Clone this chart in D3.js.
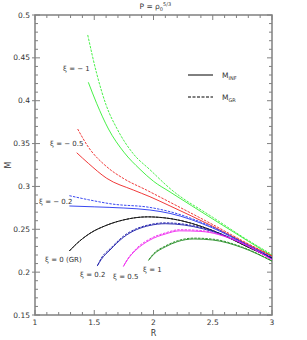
<!DOCTYPE html>
<html>
<head>
<meta charset="utf-8">
<script src="https://cdn.jsdelivr.net/npm/d3@7"></script>
<style>
body { margin: 0; background: #fff; }
text { font-family: "DejaVu Sans", sans-serif; fill: #333; }
</style>
</head>
<body>
<script>
// values: [R, M]
var xiM1Inf = [[1.45,0.4215],[1.52,0.397],[1.62,0.367],[1.75,0.340],[1.886,0.320],[2.0,0.306],[2.14,0.2935],[2.5,0.262],[2.8,0.236],[3.0,0.219]];
var xiM1Gr  = [[1.445,0.4767],[1.52,0.432],[1.6,0.395],[1.695,0.3666],[1.83,0.338],[1.97,0.3195],[2.14,0.2975],[2.5,0.264],[2.8,0.237],[3.0,0.2205]];
var xiM05Inf = [[1.352,0.3393],[1.45,0.327],[1.605,0.3095],[1.83,0.2958],[1.97,0.288],[2.14,0.2772],[2.5,0.2535],[2.8,0.232],[3.0,0.2185]];
var xiM05Gr  = [[1.36,0.367],[1.45,0.346],[1.605,0.323],[1.75,0.309],[1.94,0.2958],[2.14,0.2815],[2.5,0.2555],[2.8,0.233],[3.0,0.219]];
var xiM02Inf = [[1.29,0.2772],[1.5,0.2762],[1.75,0.2748],[1.97,0.2725],[2.14,0.2685],[2.5,0.2515],[2.8,0.231],[3.0,0.2168]];
var xiM02Gr  = [[1.29,0.2892],[1.45,0.2845],[1.65,0.2795],[1.97,0.2755],[2.14,0.2705],[2.5,0.2525],[2.8,0.2315],[3.0,0.2172]];
var xi0Inf = [[1.29,0.2247],[1.35,0.233],[1.464,0.2453],[1.6,0.2545],[1.75,0.261],[1.95,0.2645],[2.14,0.2625],[2.5,0.2485],[2.8,0.229],[3.0,0.2163]];
var xi0Gr  = xi0Inf;
var xi02Inf = [[1.525,0.2071],[1.56,0.215],[1.633,0.2258],[1.745,0.2405],[1.97,0.2545],[2.1,0.2565],[2.42,0.2505],[2.7,0.2365],[3.0,0.2155]];
var xi02Gr  = [[1.53,0.2085],[1.56,0.2165],[1.633,0.2272],[1.745,0.2418],[1.97,0.2555],[2.1,0.2575],[2.42,0.2515],[2.7,0.2372],[3.0,0.2158]];
var xi05Inf = [[1.745,0.2064],[1.78,0.2145],[1.85,0.2255],[1.97,0.2375],[2.1,0.2445],[2.22,0.2482],[2.4,0.2475],[2.7,0.2365],[3.0,0.2143]];
var xi05Gr  = [[1.75,0.2078],[1.785,0.2158],[1.85,0.2268],[1.97,0.2388],[2.1,0.2458],[2.22,0.2495],[2.4,0.2485],[2.7,0.2372],[3.0,0.2148]];
var xi1Inf = [[1.957,0.2135],[2.0,0.2205],[2.1,0.2295],[2.2,0.2355],[2.34,0.2387],[2.5,0.2375],[2.75,0.2285],[3.0,0.2128]];
var xi1Gr  = [[1.962,0.2148],[2.0,0.2215],[2.1,0.2305],[2.2,0.2365],[2.34,0.2397],[2.5,0.2385],[2.75,0.2292],[3.0,0.2132]];

var curves = [
  {inf: xiM1Inf, gr: xiM1Gr, color: "#33ee33", label: "ξ = − 1", lx: 63, ly: 71},
  {inf: xiM05Inf, gr: xiM05Gr, color: "#ee2222", label: "ξ = − 0.5", lx: 50, ly: 146},
  {inf: xiM02Inf, gr: xiM02Gr, color: "#2233ee", label: "ξ = − 0.2", lx: 39, ly: 204},
  {inf: xi0Inf, gr: xi0Gr, color: "#111111", label: "ξ = 0 (GR)", lx: 45, ly: 262},
  {inf: xi02Inf, gr: xi02Gr, color: "#1a1aa8", label: "ξ = 0.2", lx: 80, ly: 277},
  {inf: xi05Inf, gr: xi05Gr, color: "#ee22ee", label: "ξ = 0.5", lx: 113, ly: 279},
  {inf: xi1Inf, gr: xi1Gr, color: "#1f8a1f", label: "ξ = 1", lx: 143, ly: 272}
];

var xTicks = [1, 1.5, 2, 2.5, 3];
var yTicks = [0.15, 0.2, 0.25, 0.3, 0.35, 0.4, 0.45, 0.5];

var margin = {top: 15, right: 35, bottom: 25, left: 35}
  , width = 307 - margin.left - margin.right
  , height = 340 - margin.top - margin.bottom;

var svg = d3.select("body").append("svg")
    .attr("width", 307)
    .attr("height", 340)
  .append("g")
    .attr("transform", "translate(" + margin.left + "," + margin.top + ")");

var xScale = d3.scaleLinear().domain([1, 3]).range([0, width]);
var yScale = d3.scaleLinear().domain([0.15, 0.5]).range([height, 0]);

var axisColor = "#808080";
var xMinor = d3.range(1, 3.001, 0.1);
var yMinor = d3.range(0.15, 0.5001, 0.01);

// ticks (inward on all sides)
function isMajorX(v) { return Math.abs(v*2 - Math.round(v*2)) < 1e-6; }
function isMajorY(v) { return Math.abs(v*20 - Math.round(v*20)) < 1e-6; }

var tg = svg.append("g").attr("stroke", axisColor).attr("stroke-width", 1);
xMinor.forEach(function(v){
  var l = isMajorX(v) ? 5 : 3;
  tg.append("line").attr("x1", xScale(v)).attr("x2", xScale(v)).attr("y1", height).attr("y2", height - l);
  tg.append("line").attr("x1", xScale(v)).attr("x2", xScale(v)).attr("y1", 0).attr("y2", l);
});
yMinor.forEach(function(v){
  var maj = isMajorY(v);
  var l = maj ? 5 : 3;
  tg.append("line").attr("x1", maj ? -3 : 0).attr("x2", l).attr("y1", yScale(v)).attr("y2", yScale(v));
  tg.append("line").attr("x1", width).attr("x2", width - l).attr("y1", yScale(v)).attr("y2", yScale(v));
});

svg.append("rect")
    .attr("width", width).attr("height", height)
    .attr("fill", "none").attr("stroke", axisColor).attr("stroke-width", 1.5);

svg.selectAll(".xlab")
  .data(xTicks).enter().append("text")
    .attr("x", function(d){ return xScale(d); })
    .attr("y", height + 10)
    .attr("font-size", "7.5px")
    .attr("text-anchor", "middle")
    .text(function(d){ return d; });

svg.selectAll(".ylab")
  .data(yTicks).enter().append("text")
    .attr("x", -5)
    .attr("y", function(d){ return yScale(d) + 2.5; })
    .attr("font-size", "7.5px")
    .attr("text-anchor", "end")
    .text(function(d){ return d; });

svg.append("text")
    .attr("x", width / 2)
    .attr("y", height + 21)
    .attr("font-size", "8px")
    .attr("text-anchor", "middle")
    .text("R");

svg.append("text")
    .attr("transform", "translate(-24," + (height / 2) + ") rotate(-90)")
    .attr("font-size", "8px")
    .attr("text-anchor", "middle")
    .text("M");

// title
var title = svg.append("text")
    .attr("x", width / 2 - 14)
    .attr("y", -6)
    .attr("font-size", "7.5px");
title.append("tspan").text("P = ρ");
title.append("tspan").attr("font-size", "5px").attr("dy", 2).text("0");
title.append("tspan").attr("font-size", "5px").attr("dy", -5).text("5/3");

var line = d3.line()
    .x(function(d){ return xScale(d[0]); })
    .y(function(d){ return yScale(d[1]); })
    .curve(d3.curveMonotoneX);

curves.forEach(function(c){
  svg.append("path")
      .datum(c.inf)
      .attr("fill", "none")
      .attr("stroke", c.color)
      .attr("stroke-width", 0.9)
      .attr("d", line);
  svg.append("path")
      .datum(c.gr)
      .attr("fill", "none")
      .attr("stroke", c.color)
      .attr("stroke-width", 0.9)
      .attr("stroke-dasharray", "2.5,1.2")
      .attr("d", line);
  svg.append("text")
      .attr("x", c.lx - margin.left)
      .attr("y", c.ly - margin.top)
      .attr("font-size", "7px")
      .text(c.label);
});

// legend
var legend = [{name: "INF", dash: null, y: 75}, {name: "GR", dash: "3,1.5", y: 97}];
legend.forEach(function(d){
  svg.append("line")
      .attr("x1", 188 - margin.left).attr("x2", 213 - margin.left)
      .attr("y1", d.y - margin.top).attr("y2", d.y - margin.top)
      .attr("stroke", "#000").attr("stroke-width", 1)
      .attr("stroke-dasharray", d.dash);
  var t = svg.append("text")
      .attr("x", 222 - margin.left)
      .attr("y", d.y - margin.top + 3)
      .attr("font-size", "7.5px");
  t.append("tspan").text("M");
  t.append("tspan").attr("font-size", "5px").attr("dy", 1.5).text(d.name);
});
</script>
</body>
</html>
